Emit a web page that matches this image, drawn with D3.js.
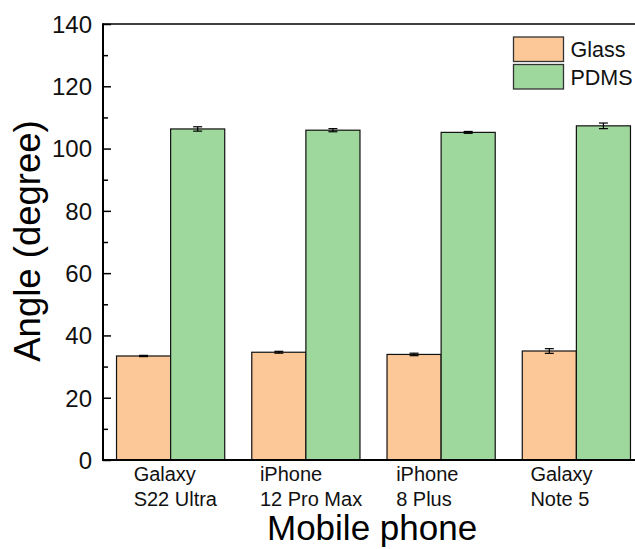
<!DOCTYPE html>
<html>
<head>
<meta charset="utf-8">
<script src="https://cdn.jsdelivr.net/npm/d3@7"></script>
<style>
  body { margin: 0; background: #fff; }
  svg { display: block; font-family: Arial, "Liberation Sans", sans-serif; }
</style>
</head>
<body>
<script>
// data
var phones = ["Galaxy S22 Ultra", "iPhone 12 Pro Max", "iPhone 8 Plus", "Galaxy Note 5"];
var phoneLines = [["Galaxy", "S22 Ultra"], ["iPhone", "12 Pro Max"], ["iPhone", "8 Plus"], ["Galaxy", "Note 5"]];
var series = ["Glass", "PDMS"];
var glass = [33.4, 34.6, 33.9, 35.0];
var glassErr = [0.2, 0.3, 0.4, 0.75];
var pdms = [106.3, 105.9, 105.2, 107.3];
var pdmsErr = [0.7, 0.5, 0.3, 0.9];
var yTicks = [0, 20, 40, 60, 80, 100, 120, 140];

var width = 635, height = 549;
var plotLeft = 103, plotTop = 24, plotRight = 644, plotBottom = 460;
var colors = {Glass: "#fcc898", PDMS: "#9fd89c"};
// label block starts a bit left of the group centre
var labelShift = [-37, -46, -45, -46];

var svg = d3.select("body").append("svg")
    .attr("width", width)
    .attr("height", height);

var x = d3.scaleBand().domain(phones).range([plotLeft, plotRight])
    .paddingInner(0.2).paddingOuter(0.1);
var xs = d3.scaleBand().domain(series).range([0, x.bandwidth()]);
var y = d3.scaleLinear().domain([0, 140]).range([plotBottom, plotTop]);

var rows = [];
phones.forEach(function(p, i) {
    rows.push({phone: p, s: "Glass", v: glass[i], e: glassErr[i]});
    rows.push({phone: p, s: "PDMS", v: pdms[i], e: pdmsErr[i]});
});

// bars
svg.append("g").selectAll("rect").data(rows).join("rect")
    .attr("x", function(d) { return x(d.phone) + xs(d.s); })
    .attr("y", function(d) { return y(d.v); })
    .attr("width", xs.bandwidth())
    .attr("height", function(d) { return y(0) - y(d.v); })
    .attr("fill", function(d) { return colors[d.s]; })
    .attr("stroke", "#111")
    .attr("stroke-width", 1.2);

// error bars
var eb = svg.append("g").attr("stroke", "#000").attr("stroke-width", 1.2);
rows.forEach(function(d) {
    var cx = x(d.phone) + xs(d.s) + xs.bandwidth() / 2;
    eb.append("line").attr("x1", cx).attr("x2", cx)
        .attr("y1", y(d.v + d.e)).attr("y2", y(d.v - d.e));
    [d.v + d.e, d.v - d.e].forEach(function(v) {
        eb.append("line").attr("x1", cx - 4.5).attr("x2", cx + 4.5)
            .attr("y1", y(v)).attr("y2", y(v));
    });
});

// frame
svg.append("line").attr("x1", plotLeft).attr("x2", plotRight).attr("y1", plotTop).attr("y2", plotTop)
    .attr("stroke", "#000").attr("stroke-width", 1.5);
svg.append("line").attr("x1", plotRight).attr("x2", plotRight).attr("y1", plotTop).attr("y2", plotBottom)
    .attr("stroke", "#000").attr("stroke-width", 1.5);

// y axis, ticks inward
var yMin = svg.append("g").attr("transform", "translate(" + plotLeft + ",0)")
    .call(d3.axisRight(y).tickValues(d3.range(10, 140, 20)).tickSize(5).tickFormat(""));
yMin.selectAll("line").attr("stroke", "#000").attr("stroke-width", 1.5);
yMin.select(".domain").remove();

var yMaj = svg.append("g").attr("transform", "translate(" + plotLeft + ",0)")
    .call(d3.axisRight(y).tickValues(yTicks).tickSize(8));
yMaj.selectAll("line").attr("stroke", "#000").attr("stroke-width", 1.5);
yMaj.select(".domain").remove();
yMaj.selectAll("text")
    .attr("x", -11).attr("dy", "0.35em")
    .attr("text-anchor", "end")
    .style("font-size", "24px").style("font-family", "Arial, 'Liberation Sans', sans-serif")
    .attr("fill", "#111");

svg.append("line").attr("x1", plotLeft).attr("x2", plotLeft).attr("y1", plotTop - 0.7).attr("y2", plotBottom + 1)
    .attr("stroke", "#000").attr("stroke-width", 2);
svg.append("line").attr("x1", plotLeft - 1).attr("x2", plotRight).attr("y1", plotBottom).attr("y2", plotBottom)
    .attr("stroke", "#000").attr("stroke-width", 2.2);

// category labels
phones.forEach(function(p, i) {
    var cx = x(p) + x.bandwidth() / 2 + labelShift[i];
    var t = svg.append("text").attr("x", cx).attr("y", 481)
        .style("font-size", "20px").attr("fill", "#111");
    phoneLines[i].forEach(function(line, j) {
        t.append("tspan").attr("x", cx).attr("dy", j === 0 ? 0 : 25).text(line);
    });
});

// axis titles
svg.append("text").attr("x", 267).attr("y", 540)
    .style("font-size", "35px").text("Mobile phone");
svg.append("text")
    .attr("transform", "translate(40,241) rotate(-90)")
    .attr("text-anchor", "middle").style("font-size", "36.5px").text("Angle (degree)");

// legend
var lg = svg.append("g");
series.forEach(function(s, i) {
    lg.append("rect").attr("x", 513.5).attr("y", 37 + i * 27.5)
        .attr("width", 50).attr("height", 24.5)
        .attr("fill", colors[s]).attr("stroke", "#333").attr("stroke-width", 1.3);
    lg.append("text").attr("x", 570.5).attr("y", 57 + i * 27.5)
        .style("font-size", "21.5px").attr("fill", "#111").text(s);
});
</script>
</body>
</html>
